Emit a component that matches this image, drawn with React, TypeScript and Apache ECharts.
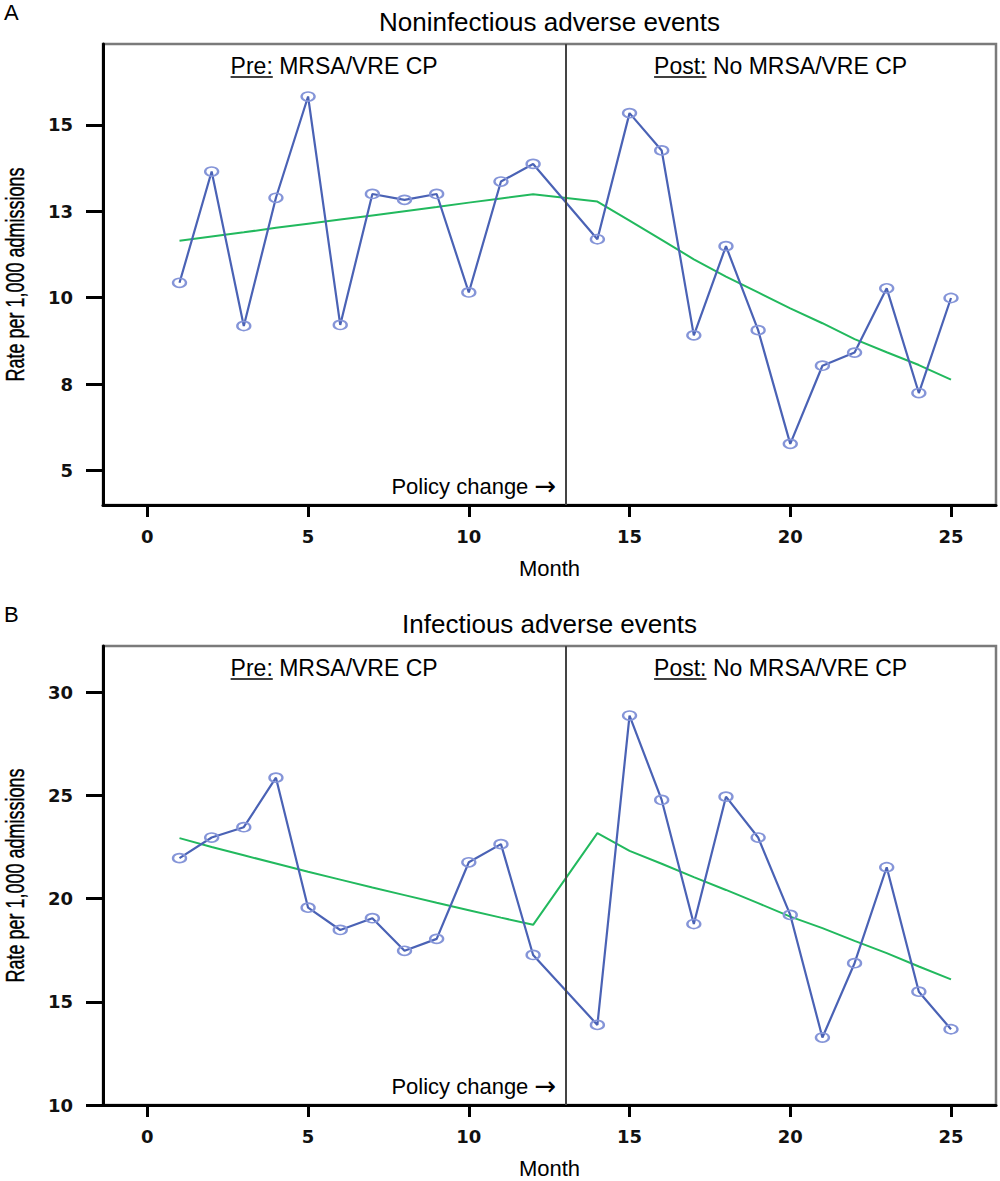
import React, { useEffect, useRef } from "react";
import * as echarts from "echarts";

// ---------- data ----------
const months = [1, 2, 3, 4, 5, 6, 7, 8, 9, 10, 11, 12, 14, 15, 16, 17, 18, 19, 20, 21, 22, 23, 24, 25];

const nonInfRate = [10.43, 13.65, 9.18, 12.89, 15.82, 9.21, 13.0, 12.83, 13.0, 10.15, 13.36, 13.87,
  11.69, 15.34, 14.26, 8.91, 11.49, 9.06, 5.77, 8.03, 8.41, 10.27, 7.24, 9.99];
const nonInfTrend = [11.65, 11.77, 11.89, 12.02, 12.14, 12.26, 12.38, 12.5, 12.62, 12.75, 12.87, 12.99,
  12.78, 12.23, 11.67, 11.11, 10.61, 10.15, 9.69, 9.26, 8.8, 8.42, 8.05, 7.63];

const infRate = [21.96, 22.96, 23.46, 25.86, 19.56, 18.48, 19.05, 17.47, 18.05, 21.76, 22.64, 17.27,
  13.88, 28.87, 24.78, 18.77, 24.94, 22.96, 19.21, 13.27, 16.87, 21.52, 15.49, 13.67];
const infTrend = [22.93, 22.5, 22.1, 21.7, 21.3, 20.92, 20.54, 20.17, 19.8, 19.44, 19.08, 18.73,
  23.17, 22.31, 21.69, 21.04, 20.42, 19.78, 19.13, 18.57, 17.95, 17.36, 16.71, 16.09];

const xTicks = [0, 5, 10, 15, 20, 25];
const yTicksA = [5, 7.5, 10, 12.5, 15];
const yTickLabelsA = ["5", "8", "10", "13", "15"];
const yTicksB = [10, 15, 20, 25, 30];
const yTickLabelsB = ["10", "15", "20", "25", "30"];

const policyMonth = 13;
const titles = ["Noninfectious adverse events", "Infectious adverse events"];
const panelLetters = ["A", "B"];

// ---------- style ----------
const X_MIN = -1.38;
const X_MAX = 26.4;
const GRIDS = [
  { left: 103, right: 4, top: 44, height: 461, yMin: 4.0, yMax: 17.34 },
  { left: 103, right: 4, top: 646, height: 459, yMin: 10, yMax: 32.24 },
];
const BLUE = "#4a62b5";
const MARK = "#8595d8";
const GREEN = "#22b95e";
const SANS = '"Liberation Sans", Arial, sans-serif';
const TICKFONT = '"DejaVu Sans", sans-serif';

function measure(text: string, font: string) {
  const ctx = document.createElement("canvas").getContext("2d")!;
  ctx.font = font;
  return ctx.measureText(text).width;
}

function pairs(vals: number[]) {
  return months.map((m, i) => [m, vals[i]]);
}

export default function App() {
  const ref = useRef<HTMLDivElement>(null);

  useEffect(() => {
    document.body.style.margin = "0";
    const chart = echarts.init(ref.current!, null, { renderer: "svg" });

    const rates = [nonInfRate, infRate];
    const trends = [nonInfTrend, infTrend];
    const yTicks = [yTicksA, yTicksB];
    const yLabels = [yTickLabelsA, yTickLabelsB];

    const option: any = {
      animation: false,
      backgroundColor: "#fff",
      grid: GRIDS.map((g) => ({
        left: g.left,
        right: g.right,
        top: g.top,
        height: g.height,
        show: true,
        borderColor: "#7a7a7a",
        borderWidth: 2.5,
        backgroundColor: "transparent",
      })),
      xAxis: GRIDS.map((_, i) => ({
        type: "value",
        gridIndex: i,
        min: X_MIN,
        max: X_MAX,
        name: "Month",
        nameLocation: "middle",
        nameGap: 52,
        nameTextStyle: { fontFamily: SANS, fontSize: 22, color: "#000" },
        axisLine: { show: true, onZero: false, lineStyle: { color: "#000", width: 3 } },
        axisTick: { show: true, length: 12, lineStyle: { color: "#000", width: 3 }, customValues: xTicks },
        axisLabel: {
          customValues: xTicks,
          margin: 22,
          fontFamily: TICKFONT,
          fontWeight: "bold",
          fontSize: 18,
          color: "#111",
        },
        splitLine: { show: false },
      })),
      yAxis: GRIDS.map((g, i) => ({
        type: "value",
        gridIndex: i,
        min: g.yMin,
        max: g.yMax,
        axisLine: { show: true, onZero: false, lineStyle: { color: "#000", width: 3 } },
        axisTick: { show: true, length: 17, lineStyle: { color: "#000", width: 3 }, customValues: yTicks[i] },
        axisLabel: {
          customValues: yTicks[i],
          margin: 30,
          fontFamily: TICKFONT,
          fontWeight: "bold",
          fontSize: 18,
          color: "#111",
          formatter: (v: number) => {
            const k = yTicks[i].indexOf(v);
            return k >= 0 ? yLabels[i][k] : "";
          },
        },
        splitLine: { show: false },
      })),
      series: [0, 1].flatMap((i) => [
        {
          type: "line",
          xAxisIndex: i,
          yAxisIndex: i,
          data: pairs(trends[i]),
          showSymbol: false,
          symbol: "none",
          lineStyle: { color: GREEN, width: 2 },
          itemStyle: { color: GREEN },
          z: 2,
        },
        {
          type: "line",
          xAxisIndex: i,
          yAxisIndex: i,
          data: pairs(rates[i]),
          symbol: "circle",
          symbolSize: [13, 9],
          lineStyle: { color: BLUE, width: 2.2 },
          itemStyle: { color: "rgba(255,255,255,0)", borderColor: MARK, borderWidth: 2 },
          z: 3,
          markLine: {
            silent: true,
            symbol: "none",
            label: { show: false },
            lineStyle: { color: "#444", width: 2, type: "solid" },
            data: [{ xAxis: policyMonth }],
          },
        },
      ]),
    };
    chart.setOption(option);

    // ----- annotations -----
    const graphics: any[] = [];
    const preFont = `23px ${SANS}`;
    GRIDS.forEach((g, i) => {
      const xPx = (v: number) => chart.convertToPixel({ xAxisIndex: i }, v) as number;
      const top = g.top;
      const bottom = g.top + g.height;
      const centerX = (xPx(X_MIN) + xPx(X_MAX)) / 2;
      const centerY = (top + bottom) / 2;
      const lineX = xPx(policyMonth);

      graphics.push({
        type: "text",
        x: 4,
        y: top - 32,
        style: { text: panelLetters[i], font: `22px ${SANS}`, fill: "#000", align: "left", verticalAlign: "middle", textAlign: "left", textVerticalAlign: "middle" },
      });
      graphics.push({
        type: "text",
        x: centerX,
        y: top - 22,
        style: { text: titles[i], font: `26px ${SANS}`, fill: "#000", align: "center", verticalAlign: "middle", textAlign: "center", textVerticalAlign: "middle" },
      });
      // y-axis title (condensed)
      graphics.push({
        type: "text",
        x: 15,
        y: centerY,
        rotation: Math.PI / 2,
        scaleX: 0.72,
        style: { text: "Rate per 1,000 admissions", font: `25px ${SANS}`, fill: "#000", stroke: "#000", lineWidth: 0.4, align: "center", verticalAlign: "middle", textAlign: "center", textVerticalAlign: "middle" },
      });

      // Pre / Post labels
      const labels = [
        { u: "Pre:", rest: " MRSA/VRE CP", cx: (xPx(X_MIN) + lineX) / 2 },
        { u: "Post:", rest: " No MRSA/VRE CP", cx: (lineX + xPx(X_MAX)) / 2 },
      ];
      const ly = top + 22;
      labels.forEach((l) => {
        const full = l.u + l.rest;
        const w = measure(full, preFont);
        const wu = measure(l.u, preFont);
        const x0 = l.cx - w / 2;
        graphics.push({
          type: "text",
          x: x0,
          y: ly,
          style: { text: full, font: preFont, fill: "#000", align: "left", verticalAlign: "middle", textAlign: "left", textVerticalAlign: "middle" },
        });
        graphics.push({
          type: "line",
          shape: { x1: x0, y1: ly + 11, x2: x0 + wu, y2: ly + 11 },
          style: { stroke: "#000", lineWidth: 1.6 },
        });
      });

      graphics.push({
        type: "text",
        x: lineX - 9,
        y: bottom - 19,
        style: {
          text: "Policy change {a|\u2192}",
          font: `22px ${SANS}`,
          fill: "#000",
          align: "right",
          verticalAlign: "middle",
          textAlign: "right",
          textVerticalAlign: "middle",
          rich: { a: { fontFamily: TICKFONT, fontSize: 26, fontWeight: "normal", fill: "#000", color: "#000" } },
        },
      });
    });
    chart.setOption({ graphic: { elements: graphics } });

    return () => chart.dispose();
  }, []);

  return <div ref={ref} style={{ width: 1000, height: 1181 }} />;
}
